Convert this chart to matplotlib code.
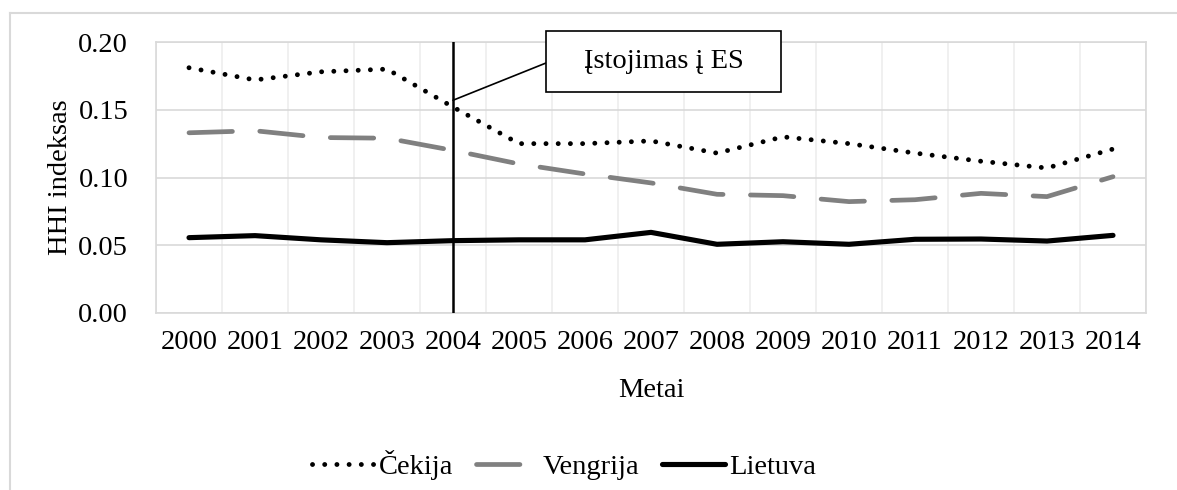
import numpy as np
import matplotlib.pyplot as plt
from matplotlib.patches import Rectangle
from matplotlib.lines import Line2D

plt.rcParams['font.family'] = ['Liberation Serif', 'DejaVu Serif']

metai = ['2000', '2001', '2002', '2003', '2004', '2005', '2006', '2007',
         '2008', '2009', '2010', '2011', '2012', '2013', '2014']
cekija = [0.181, 0.172, 0.178, 0.180, 0.152, 0.125, 0.125, 0.127,
          0.118, 0.130, 0.125, 0.118, 0.112, 0.107, 0.121]
vengrija = [0.133, 0.1345, 0.1295, 0.129, 0.120, 0.110, 0.1026, 0.096,
            0.0876, 0.0866, 0.0822, 0.0836, 0.0883, 0.0859, 0.1006]
lietuva = [0.0556, 0.0571, 0.054, 0.0519, 0.0534, 0.054, 0.054, 0.0595,
           0.0507, 0.0526, 0.0507, 0.0544, 0.0546, 0.0531, 0.0573]
istojimas = 4  # 2004

fs = 20.5
fig = plt.figure(figsize=(11.77, 4.9), dpi=100)
ax = fig.add_axes([156/1177, 1 - 313/490, (1146-156)/1177, (313-42)/490])

x = np.arange(len(metai))
ax.plot(x, cekija, color='black', lw=3.5, linestyle=(0, (0.01, 2.5)),
        dash_capstyle='round', label='Čekija', zorder=3)
ax.plot(x, vengrija, color='#808080', lw=3.4, linestyle=(0, (9.2, 5.8)),
        dash_capstyle='round', label='Vengrija', zorder=3)
ax.plot(x, lietuva, color='black', lw=3.7, solid_capstyle='round',
        solid_joinstyle='round', label='Lietuva', zorder=3)
ax.axvline(istojimas, color='black', lw=1.8, zorder=4)

ax.set_xlim(-0.5, len(metai) - 0.5)
ax.set_ylim(0, 0.2)
ax.set_yticks(np.arange(0, 0.201, 0.05))
ax.set_yticklabels(['%.2f' % v for v in np.arange(0, 0.201, 0.05)])
ax.set_xticks(x)
ax.set_xticklabels(metai)
ax.set_xticks(np.arange(-0.5, len(metai), 0.5), minor=True)
ax.tick_params(axis='both', which='both', length=0, labelsize=fs)
ax.tick_params(axis='y', pad=20)
ax.tick_params(axis='x', pad=12)
ax.grid(True, axis='y', which='major', color='#d9d9d9', lw=1.2)
ax.grid(True, axis='x', which='minor', color='#eeeeee', lw=1.2)
ax.set_axisbelow(True)
for s in ax.spines.values():
    s.set_color('#d9d9d9')
    s.set_linewidth(1.2)

ax.set_ylabel('HHI indeksas', fontsize=fs, labelpad=4)
ax.set_xlabel('Metai', fontsize=fs, labelpad=17)

# annotation box
fig.patches.append(Rectangle((546/1177, 1 - 92/490), 235/1177, 61/490,
                             transform=fig.transFigure, facecolor='white',
                             edgecolor='black', lw=1.2, zorder=5))
fig.text(663.5/1177, 1 - 61.5/490, 'Įstojimas į ES', fontsize=fs,
         ha='center', va='center', zorder=6)
ax.annotate('', xy=(istojimas, 0.157), xycoords='data',
            xytext=(546/1177, 1 - 63/490), textcoords='figure fraction',
            arrowprops=dict(arrowstyle='-', lw=1.2, color='black',
                            shrinkA=0, shrinkB=0))

# outer chart border (cut at right and bottom)
fig.add_artist(Line2D([10/1177, 10/1177], [0, 1 - 13/490],
                      transform=fig.transFigure, color='#d9d9d9', lw=1.5))
fig.add_artist(Line2D([10/1177, 1], [1 - 13/490, 1 - 13/490],
                      transform=fig.transFigure, color='#d9d9d9', lw=1.5))

fig.legend(loc='center', bbox_to_anchor=(564/1177, 1 - 465/490), ncol=3,
           frameon=False, fontsize=fs, handlelength=2.2, handletextpad=0.15,
           columnspacing=0.8)

fig.savefig('out.png', dpi=100)
